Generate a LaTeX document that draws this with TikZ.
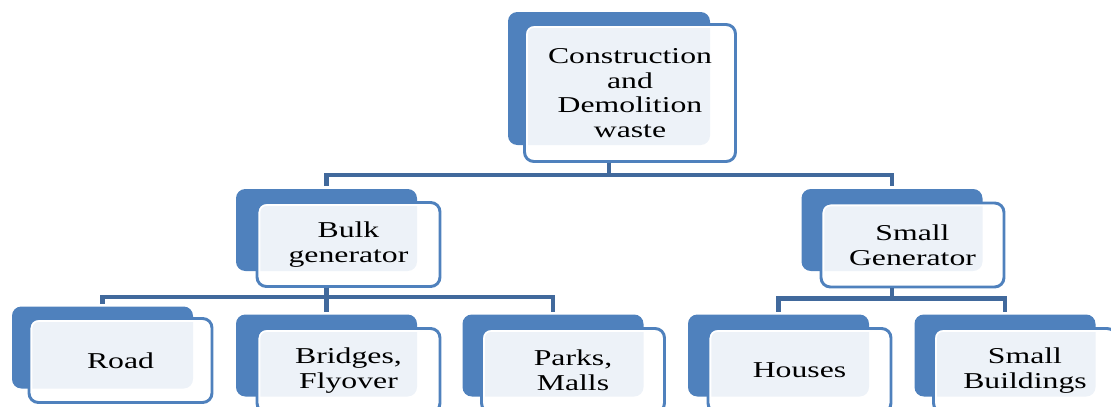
\documentclass[tikz,border=0pt]{standalone}
\usepackage{fontspec}
\setmainfont{Liberation Serif}[FakeStretch=1.4]
\usetikzlibrary{positioning}
\definecolor{boxblue}{HTML}{4F81BD}
\definecolor{linkblue}{HTML}{41699C}
\newcommand\boxfont{\fontsize{17}{18.4}\selectfont}
\tikzstyle{back}=[fill=boxblue,rounded corners=7pt,minimum width=135.75pt,minimum height=61.5pt]
\tikzstyle{card}=[draw=boxblue,line width=2.2pt,fill=white,fill opacity=0.9,text opacity=1,
  rounded corners=7pt,minimum width=137.25pt,minimum height=63pt,align=center,font=\boxfont,
  path picture={\draw[white,line width=5pt,rounded corners=7pt]
    (path picture bounding box.south west) rectangle (path picture bounding box.north east);}]
\tikzstyle{link}=[draw=linkblue,line width=3.3pt,shorten >=2pt]

\begin{document}
\begin{tikzpicture}[x=0.75pt,y=-0.75pt]
      \path[use as bounding box,clip] (0,0) rectangle (1111,407);

      \node [back,minimum width=151.5pt,minimum height=99.75pt] (cdwB) at (609,78.5) {};
      \node [card,minimum width=158.25pt,minimum height=102.75pt] (cdw) at ([shift={(21,14.5)}]cdwB) {Construction\\and\\Demolition\\waste};

      \node [back] (bulkB)  at (326.5,230) {};
      \node [card] (bulk)   at ([shift={(22,14.5)}]bulkB) {Bulk\\generator};
      \node [back] (smallB) at (892,230) {};
      \node [card] (small)  at ([shift={(20.5,15)}]smallB) {Small\\Generator};

      \node [back] (roadB)    at (102.5,347.5) {};
      \node [card] (road)     at ([shift={(18,13)}]roadB) {Road};
      \node [back] (bridgesB) at (326.5,355.5) {};
      \node [card] (bridges)  at ([shift={(22,15)}]bridgesB) {Bridges,\\Flyover};
      \node [back] (parksB)   at (553,355.5) {};
      \node [card] (parks)    at ([shift={(20,15)}]parksB) {Parks,\\Malls};
      \node [back] (housesB)  at (778.5,355.5) {};
      \node [card] (houses)   at ([shift={(21,15)}]housesB) {Houses};
      \node [back] (sbldB)    at (1005,355.5) {};
      \node [card] (sbld)     at ([shift={(20,15)}]sbldB) {Small\\Buildings};

      \draw[link] (cdwB |- cdw.south) -- ++(0,12) -| (bulkB.north);
      \draw[link] (cdwB |- cdw.south) -- ++(0,12) -| (smallB.north);
      \draw[link] (bulkB |- bulk.south) -- ++(0,9) -| (roadB.north);
      \draw[link] (bulkB |- bulk.south) -- (bridgesB.north);
      \draw[link] (bulkB |- bulk.south) -- ++(0,9) -| (parksB.north);
      \draw[link] (smallB |- small.south) -- ++(0,10) -| (housesB.north);
      \draw[link] (smallB |- small.south) -- ++(0,10) -| (sbldB.north);
    \end{tikzpicture}
\end{document}
